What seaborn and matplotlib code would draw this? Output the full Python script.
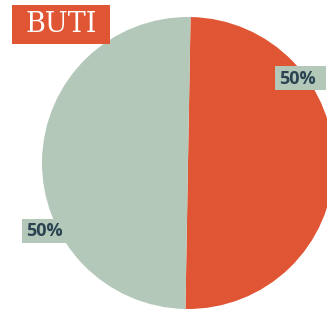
import matplotlib
matplotlib.use("Agg")
import seaborn as sns
from matplotlib import pyplot as plt
from matplotlib.patches import Rectangle

# Data
labels = ['Orange', 'Sage']
shares = [50, 50]
pct_labels = ['50%', '50%']
slice_colors = ['#E05533', '#B4C8BA']

sns.set_theme(style='white')

W, H = 327, 312
fig = plt.figure(figsize=(W / 100, H / 100), dpi=100)


def px_box(x0, y0, x1, y1, color):
    # rectangle given in pixels from the top-left corner
    fig.patches.append(Rectangle((x0 / W, 1 - y1 / H), (x1 - x0) / W, (y1 - y0) / H,
                                 transform=fig.transFigure, facecolor=color,
                                 edgecolor='none', zorder=5))


# pie centre ~(188, 163) px, radius ~146 px
ax = fig.add_axes([42 / W, 3 / H, 292 / W, 292 / H])
ax.pie(shares, colors=slice_colors, startangle=89, counterclock=False,
       radius=1, wedgeprops=dict(linewidth=0))
ax.set_xlim(-1, 1)
ax.set_ylim(-1, 1)
ax.set_aspect('equal')
ax.axis('off')

# percentage labels
px_box(275, 66, 326, 90, slice_colors[1])
px_box(22, 219, 72, 243, slice_colors[1])
fig.text(297.5 / W, 1 - 79 / H, pct_labels[0], fontsize=13, fontweight='bold',
         family='Open Sans', color='#2B4452', ha='center', va='center', zorder=6)
fig.text(44.5 / W, 1 - 231 / H, pct_labels[1], fontsize=13, fontweight='bold',
         family='Open Sans', color='#2B4452', ha='center', va='center', zorder=6)

# title badge
px_box(12, 5, 110, 44, slice_colors[0])
fig.text(61 / W, 1 - 24 / H, 'BUTI', fontsize=19.5, family='DejaVu Serif',
         color='white', ha='center', va='center', zorder=6)

fig.savefig('out.png', dpi=100)
